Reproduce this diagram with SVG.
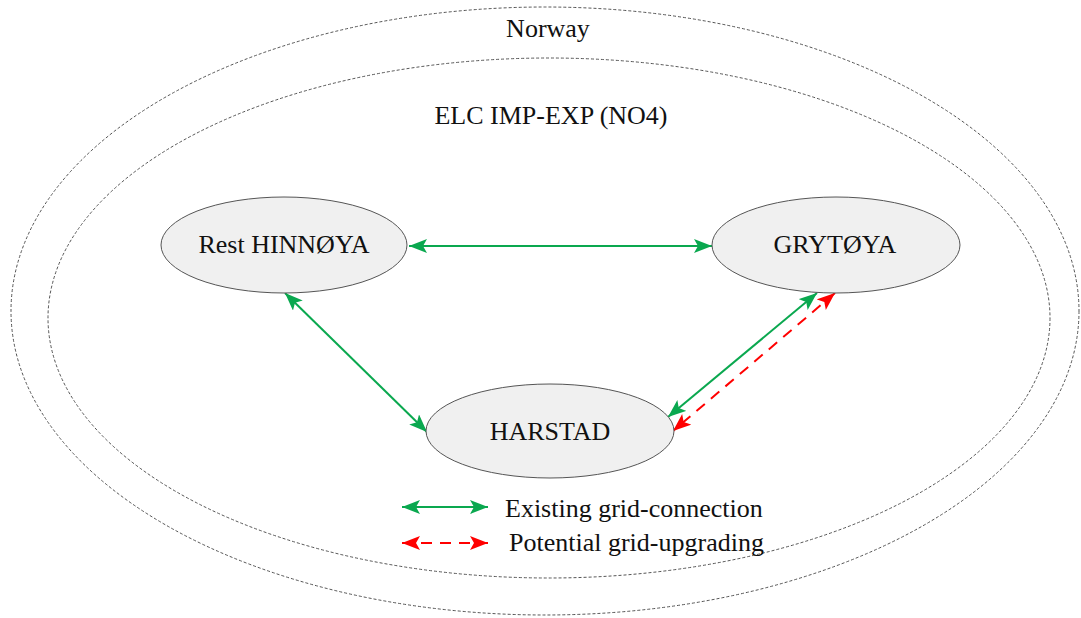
<svg xmlns="http://www.w3.org/2000/svg" width="1081" height="618" viewBox="0 0 1081 618">
<defs>
<style>
.region{fill:none;stroke:#555;stroke-width:1;stroke-dasharray:3 2}
.node{fill:#f0f0f0;stroke:#555;stroke-width:1}
.lbl{font-family:"Liberation Serif","Times New Roman",serif;font-size:26px;fill:#111}
.g{stroke:#0aa84f;stroke-width:2;fill:none}
.r{stroke:#ff0000;stroke-width:2;fill:none;stroke-dasharray:11 8}
</style>
<marker id="ag" markerUnits="userSpaceOnUse" markerWidth="20" markerHeight="16" refX="18" refY="7" orient="auto-start-reverse" viewBox="0 0 20 16">
<path d="M0,0 L18,7 L0,14 L4,7 z" fill="#0aa84f"/>
</marker>
<marker id="ar" markerUnits="userSpaceOnUse" markerWidth="20" markerHeight="16" refX="18" refY="7" orient="auto-start-reverse" viewBox="0 0 20 16">
<path d="M0,0 L18,7 L0,14 L4,7 z" fill="#ff0000"/>
</marker>
</defs>
<rect width="1081" height="618" fill="#fff"/>
<g id="norway">
<ellipse class="region" cx="545" cy="311" rx="534" ry="304"/>
<text class="lbl" x="548" y="37" text-anchor="middle">Norway</text>
</g>
<g id="elc">
<ellipse class="region" cx="549" cy="318" rx="501" ry="260"/>
<text class="lbl" x="551" y="124" text-anchor="middle">ELC IMP-EXP (NO4)</text>
</g>
<g id="connectors">
<line class="g" x1="409" y1="246" x2="712" y2="246" marker-start="url(#ag)" marker-end="url(#ag)"/>
<line class="g" x1="285" y1="293" x2="427" y2="432" marker-start="url(#ag)" marker-end="url(#ag)"/>
<line class="g" x1="817" y1="293" x2="668" y2="417" marker-start="url(#ag)" marker-end="url(#ag)"/>
<line class="r" x1="835" y1="293" x2="673" y2="431" marker-start="url(#ar)" marker-end="url(#ar)"/>
</g>
<g id="rest-hinnoya">
<ellipse class="node" cx="284" cy="245" rx="123" ry="48"/>
<text class="lbl" x="284" y="253" text-anchor="middle">Rest HINNØYA</text>
</g>
<g id="grytoya">
<ellipse class="node" cx="836" cy="245" rx="124" ry="48"/>
<text class="lbl" x="835" y="253" text-anchor="middle">GRYTØYA</text>
</g>
<g id="harstad">
<ellipse class="node" cx="550" cy="431" rx="124" ry="47"/>
<text class="lbl" x="550" y="440" text-anchor="middle">HARSTAD</text>
</g>
<g id="legend">
<line class="g" x1="402" y1="507" x2="488" y2="507" marker-start="url(#ag)" marker-end="url(#ag)"/>
<text class="lbl" x="505" y="517">Existing grid-connection</text>
<line class="r" x1="402" y1="543" x2="488" y2="543" marker-start="url(#ar)" marker-end="url(#ar)"/>
<text class="lbl" x="509" y="551">Potential grid-upgrading</text>
</g>
</svg>
